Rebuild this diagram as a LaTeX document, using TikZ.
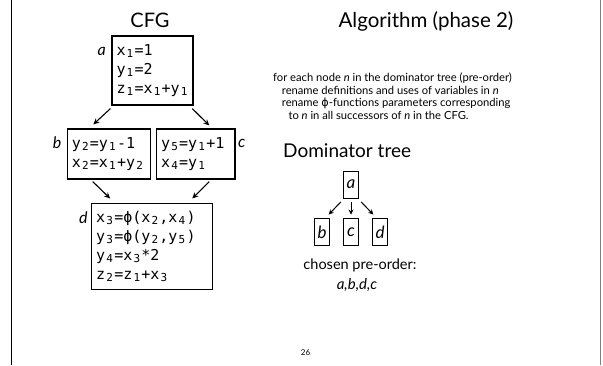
\documentclass[tikz,border=0pt]{standalone}
\usepackage{fontspec}
\setmainfont{Lato}
\newfontfamily\codefont{DejaVu Sans Mono}
\newfontfamily\symfont{DejaVu Sans}
\usetikzlibrary{arrows.meta}
% lowered index digit occupying one monospaced cell
\newcommand\lo[1]{\makebox[9.03pt][c]{\raisebox{-2.2pt}{\fontsize{11}{11}\selectfont#1}}}
\begin{document}
\begin{tikzpicture}[x=1pt,y=-1pt,
  block/.style={draw, line width=1.1pt, inner xsep=4.5pt, inner ysep=0pt,
    align=left, font=\codefont\fontsize{15}{19}\selectfont},
  tag/.style={font=\itshape\fontsize{16}{16}\selectfont, inner sep=0pt},
  flow/.style={-{Stealth[length=6pt,width=5.5pt]}, line width=1.1pt},
  domnode/.style={draw, line width=0.9pt, minimum width=15.5pt, minimum height=27pt,
    inner sep=0pt, font=\itshape\fontsize{17}{17}\selectfont},
  domedge/.style={-{Stealth[length=5pt,width=5pt]}, line width=1pt},
  title/.style={font=\fontsize{20}{20}\selectfont, inner sep=0pt},
  body/.style={font=\fontsize{11.2}{13}\selectfont, inner sep=0pt, anchor=base west}]
\useasboundingbox (0,0) rectangle (603,365);
\fill[white] (0,0) rectangle (603,365);

% page frame edges
\draw[line width=1pt] (11.7,0) -- (11.7,365);
\draw[gray, line width=1pt] (600.5,0) -- (600.5,365);

% ---- control flow graph ----
\node[title] (cfgtitle) at (150,20) {CFG};

\node[block, text width=72pt, minimum height=69pt] (a) at (152.5,70.5)
  {x\lo1=1\\y\lo1=2\\z\lo1=x\lo1+y\lo1};
\node[block, text width=73.7pt, minimum height=50pt] (b) at (108.7,154)
  {y\lo2=y\lo1-1\\x\lo2=x\lo1+y\lo2};
\node[block, text width=69.3pt, minimum height=50pt] (c) at (195.8,154)
  {y\lo5=y\lo1+1\\x\lo4=y\lo1};
\node[block, text width=112pt, minimum height=85.7pt] (d) at (152.2,246.2)
  {x\lo3=ϕ(x\lo2,x\lo4)\\y\lo3=ϕ(y\lo2,y\lo5)\\y\lo4=x\lo3*2\\z\lo2=z\lo1+x\lo3};

\node[tag] (la) at (101.7,51) {a};
\node[tag] (lb) at (57,143) {b};
\node[tag] (lc) at (241.7,143) {c};
\node[tag] (ld) at (83.3,218) {d};

\draw[flow] ([xshift=-1pt,yshift=-3pt]a.south west) -- ([xshift=-15.4pt,yshift=4pt]b.north);
\draw[flow] ([xshift=-1.3pt,yshift=-3pt]a.south east) -- ([xshift=13.5pt,yshift=3pt]c.north);
\draw[flow] ([xshift=-16pt,yshift=-2pt]b.south) -- ([xshift=19pt,yshift=4.3pt]d.north west);
\draw[flow] ([xshift=13.5pt,yshift=-2pt]c.south) -- ([xshift=-21pt,yshift=4.3pt]d.north east);

% ---- algorithm text ----
\node[title, font=\fontsize{20.5}{20.5}\selectfont] (algtitle) at (426,21) {Algorithm (phase 2)};
\node[body] (l1) at (273,81.5) {for each node \textit{n} in the dominator tree (pre-order)};
\node[body] (l2) at (281.7,94) {rename definitions and uses of variables in \textit{n}};
\node[body] (l3) at (281.7,106.5) {rename {\symfont ϕ}-functions parameters corresponding};
\node[body] (l4) at (288.3,119) {to \textit{n} in all successors of \textit{n} in the CFG.};

% ---- dominator tree ----
\node[title, anchor=west, font=\fontsize{19}{19}\selectfont] (domtitle) at (283,151) {Dominator tree};
\node[domnode] (ta) at (351,184.5) {a};
\node[domnode] (tb) at (322,232) {b};
\node[domnode] (tc) at (351,232) {c};
\node[domnode] (td) at (380,232) {d};
\draw[domedge] ([xshift=-2pt,yshift=-3.5pt]ta.south west) -- ([xshift=6.7pt,yshift=3.5pt]tb.north);
\draw[domedge] ([yshift=-3.5pt]ta.south) -- ([yshift=3.5pt]tc.north);
\draw[domedge] ([xshift=2pt,yshift=-3.5pt]ta.south east) -- ([xshift=-6.7pt,yshift=3.5pt]td.north);

\node[font=\fontsize{14.5}{14.5}\selectfont, inner sep=0pt] (chosen) at (360,265) {chosen pre-order:};
\node[font=\itshape\fontsize{15}{15}\selectfont, inner sep=0pt] (order) at (357,285) {a,b,d,c};

\node[font=\fontsize{8}{8}\selectfont, inner sep=0pt] (pagenum) at (305.5,353) {26};
\end{tikzpicture}
\end{document}
